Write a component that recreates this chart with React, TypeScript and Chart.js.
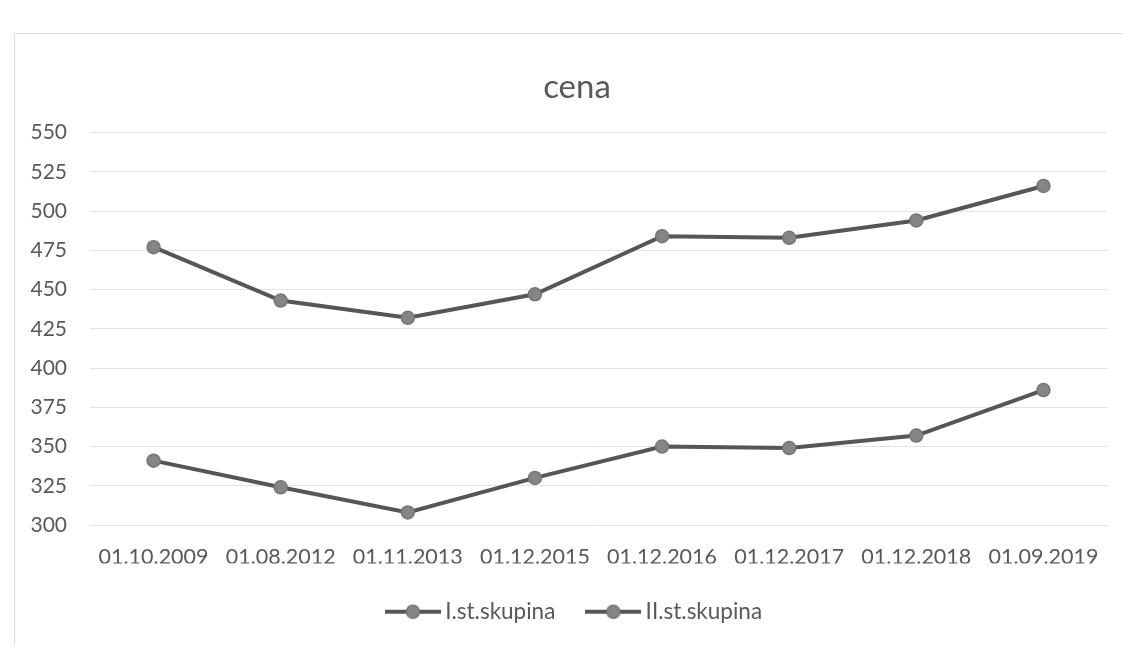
import { useEffect, useRef } from "react";
import { Chart, registerables } from "chart.js";

Chart.register(...registerables);

const categories = [
  "01.10.2009",
  "01.08.2012",
  "01.11.2013",
  "01.12.2015",
  "01.12.2016",
  "01.12.2017",
  "01.12.2018",
  "01.09.2019",
];
const seriesNames = ["I.st.skupina", "II.st.skupina"];
const seriesI = [341, 324, 308, 330, 350, 349, 357, 386];
const seriesII = [477, 443, 432, 447, 484, 483, 494, 516];
const yMin = 300;
const yMax = 550;
const yStep = 25;
const chartTitle = "cena";

const LINE = "#565656";
const POINT_FILL = "#858585";
const POINT_BORDER = "#767676";
const TEXT = "#595959";
const GRID = "#e3e3e3";
const FONT = "Lato";

const CANVAS_W = 1154;
const CANVAS_H = 645;

function makeLegendSymbol(): HTMLCanvasElement {
  const c = document.createElement("canvas");
  c.width = 56;
  c.height = 16;
  const ctx = c.getContext("2d")!;
  ctx.strokeStyle = LINE;
  ctx.lineWidth = 4;
  ctx.beginPath();
  ctx.moveTo(0, 8);
  ctx.lineTo(56, 8);
  ctx.stroke();
  ctx.beginPath();
  ctx.arc(28, 8, 6.5, 0, Math.PI * 2);
  ctx.fillStyle = POINT_FILL;
  ctx.fill();
  ctx.lineWidth = 1.5;
  ctx.strokeStyle = POINT_BORDER;
  ctx.stroke();
  return c;
}

export default function App() {
  const ref = useRef<HTMLCanvasElement | null>(null);

  useEffect(() => {
    if (!ref.current) return;
    const symbol = makeLegendSymbol();
    const mkDs = (label: string, data: number[]) => ({
      label,
      data,
      yAxisID: "y",
      borderColor: LINE,
      backgroundColor: POINT_FILL,
      borderWidth: 4,
      pointRadius: 6.5,
      pointBackgroundColor: POINT_FILL,
      pointBorderColor: POINT_BORDER,
      pointBorderWidth: 1.5,
      tension: 0,
    });
    const chart = new Chart(ref.current, {
      type: "line",
      data: {
        labels: categories,
        datasets: [mkDs(seriesNames[0], seriesI), mkDs(seriesNames[1], seriesII)],
      },
      options: {
        animation: false,
        responsive: false,
        devicePixelRatio: window.devicePixelRatio || 1,
        layout: { padding: { left: 0, right: 0, top: 0, bottom: 12 } },
        plugins: {
          title: {
            display: true,
            text: chartTitle,
            color: TEXT,
            font: { family: FONT, size: 33, weight: "normal" },
            padding: { top: 68, bottom: 25 },
          },
          legend: {
            position: "bottom",
            labels: {
              usePointStyle: true,
              pointStyleWidth: 42,
              padding: 37,
              color: TEXT,
              font: { family: FONT, size: 22.5 },
              generateLabels: (ch: any) =>
                ch.data.datasets.map((ds: any, i: number) => ({
                  text: ds.label,
                  pointStyle: symbol,
                  fillStyle: "rgba(0,0,0,0)",
                  strokeStyle: "rgba(0,0,0,0)",
                  lineWidth: 0,
                  fontColor: TEXT,
                  hidden: false,
                  datasetIndex: i,
                })),
            },
          },
          tooltip: { enabled: false },
        },
        scales: {
          x: {
            offset: true,
            grid: { display: false, drawTicks: false },
            border: { display: false },
            ticks: {
              color: TEXT,
              font: { family: FONT, size: 21.5 },
              padding: 19,
              maxRotation: 0,
              autoSkip: false,
            },
            afterFit: (scale: any) => {
              scale.height = 38.5;
            },
          },
          y: {
            position: "left",
            min: yMin,
            max: yMax,
            grid: { color: GRID, lineWidth: 1, drawTicks: false },
            border: { display: false },
            ticks: {
              stepSize: yStep,
              color: TEXT,
              font: { family: FONT, size: 21 },
              padding: 23,
            },
            afterFit: (scale: any) => {
              scale.width = 90;
            },
          },
          yRight: {
            position: "right",
            min: yMin,
            max: yMax,
            grid: { display: false, drawTicks: false },
            border: { display: false },
            ticks: { display: false },
            afterFit: (scale: any) => {
              scale.width = CANVAS_W - 1107;
            },
          },
        },
      },
    });
    return () => chart.destroy();
  }, []);

  return (
    <div
      style={{
        position: "fixed",
        left: 0,
        top: 0,
        width: 1123,
        height: 645,
        background: "#ffffff",
        overflow: "hidden",
      }}
    >
      <div
        style={{
          position: "absolute",
          left: 14,
          top: 33,
          width: 1120,
          height: 620,
          borderLeft: "1px solid #dedede",
          borderTop: "1px solid #dedede",
        }}
      />
      <canvas
        ref={ref}
        width={CANVAS_W}
        height={CANVAS_H}
        style={{ position: "absolute", left: 0, top: 0, width: CANVAS_W, height: CANVAS_H }}
      />
    </div>
  );
}
